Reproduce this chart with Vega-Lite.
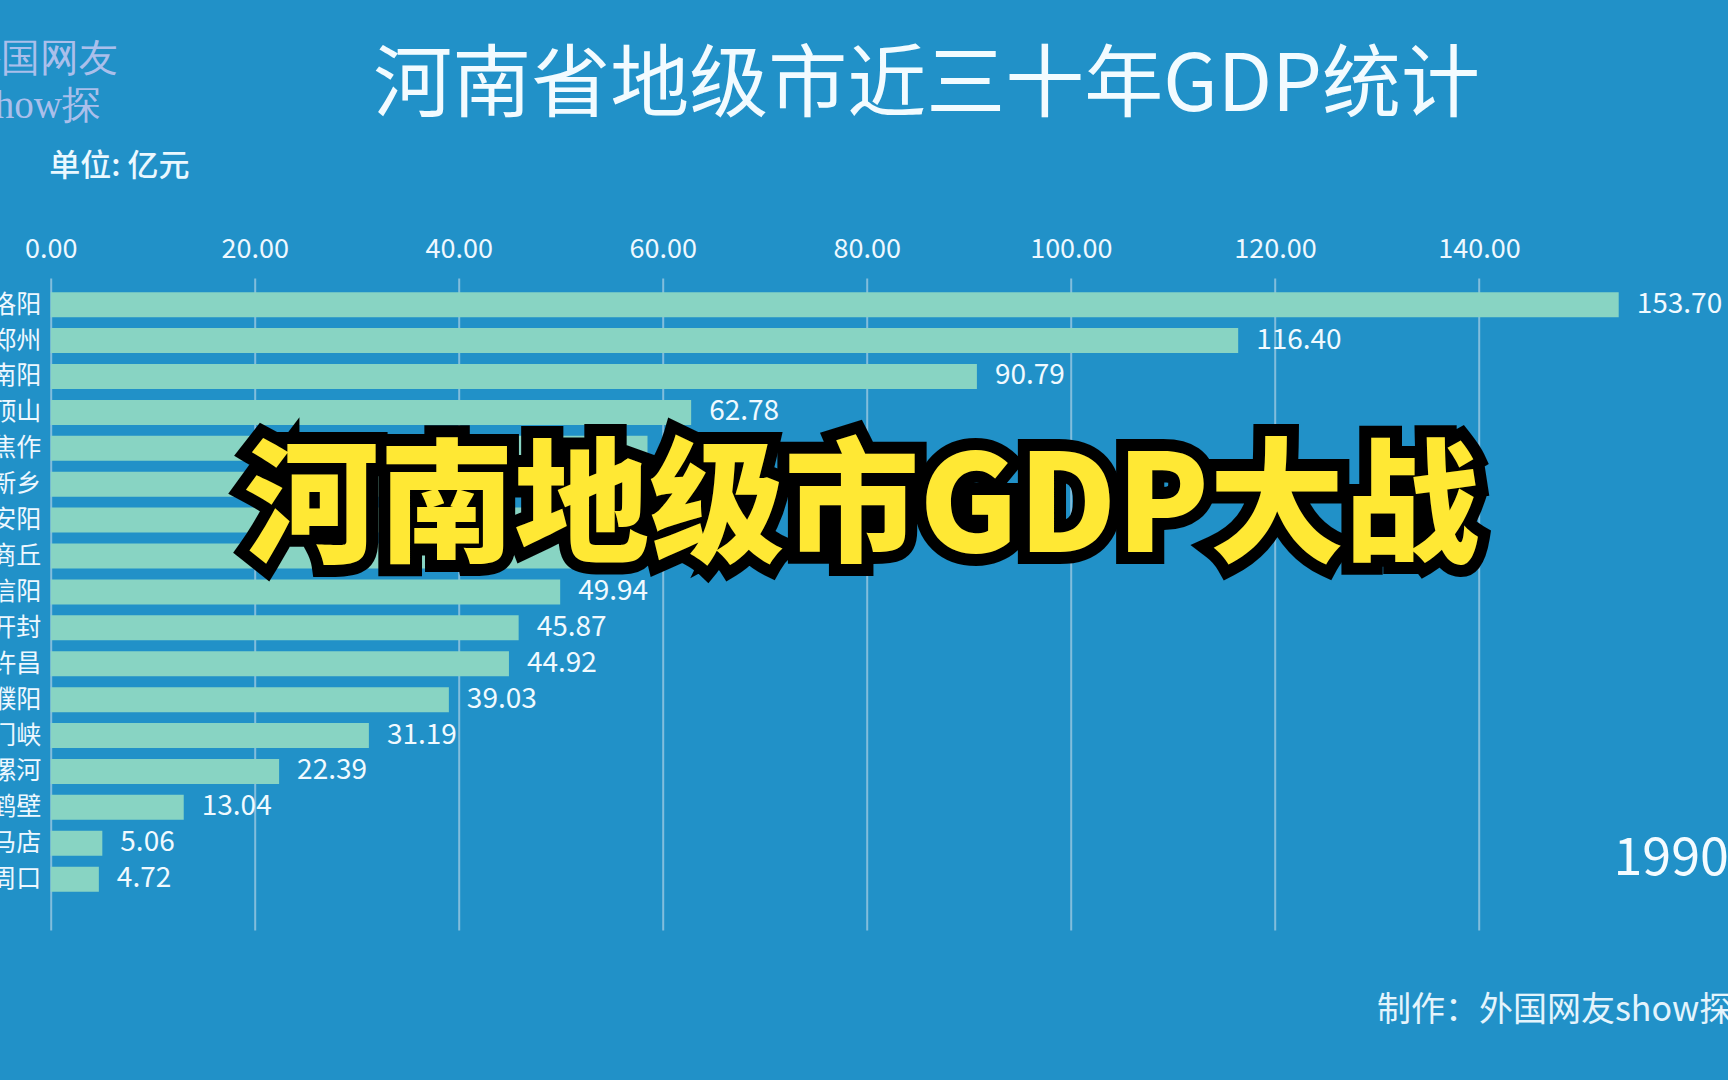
{
  "$schema": "https://vega.github.io/schema/vega-lite/v6.json",
  "width": 1568,
  "height": 652,
  "autosize": {"type": "none"},
  "padding": {"left": 50.7, "top": 278, "right": 109.3, "bottom": 150},
  "background": "#2191C8",
  "title": {
    "text": "河南省地级市近三十年GDP统计",
    "font": "Noto Sans CJK SC",
    "fontSize": 79,
    "fontWeight": "normal",
    "color": "#f2fbff",
    "anchor": "middle",
    "frame": "group",
    "dx": 92,
    "dy": 93
  },
  "config": {
    "view": {"stroke": null},
    "font": "Noto Sans CJK SC"
  },
  "data": {
    "values": [
      {"city": "洛阳", "gdp": 153.70},
      {"city": "郑州", "gdp": 116.40},
      {"city": "南阳", "gdp": 90.79},
      {"city": "平顶山", "gdp": 62.78},
      {"city": "焦作", "gdp": 58.5},
      {"city": "新乡", "gdp": 56.2},
      {"city": "安阳", "gdp": 54.0},
      {"city": "商丘", "gdp": 51.3},
      {"city": "信阳", "gdp": 49.94},
      {"city": "开封", "gdp": 45.87},
      {"city": "许昌", "gdp": 44.92},
      {"city": "濮阳", "gdp": 39.03},
      {"city": "三门峡", "gdp": 31.19},
      {"city": "漯河", "gdp": 22.39},
      {"city": "鹤壁", "gdp": 13.04},
      {"city": "驻马店", "gdp": 5.06},
      {"city": "周口", "gdp": 4.72}
    ]
  },
  "layer": [
    {
      "mark": {"type": "bar", "color": "#88D4C3"},
      "encoding": {
        "x": {
          "field": "gdp",
          "type": "quantitative",
          "scale": {"domain": [0, 153.7], "nice": false, "zero": true},
          "axis": {
            "orient": "top",
            "values": [0, 20, 40, 60, 80, 100, 120, 140],
            "format": ".2f",
            "domain": false,
            "ticks": false,
            "labelFlush": false,
            "labelFontSize": 27,
            "labelColor": "#eef8ff",
            "labelPadding": 15,
            "grid": true,
            "gridColor": "#d4e2ec",
            "gridOpacity": 0.55,
            "gridWidth": 2,
            "title": "单位: 亿元",
            "titleFontSize": 31,
            "titleFontWeight": 500,
            "titleColor": "#eaf8ff",
            "titleAngle": 0,
            "titleAlign": "left",
            "titleBaseline": "middle",
            "titleX": -2,
            "titleY": -112
          }
        },
        "y": {
          "field": "city",
          "type": "nominal",
          "scale": {
            "domain": ["洛阳", "郑州", "南阳", "平顶山", "焦作", "新乡", "安阳", "商丘", "信阳", "开封", "许昌", "濮阳", "三门峡", "漯河", "鹤壁", "驻马店", "周口"],
            "paddingInner": 0.304,
            "paddingOuter": 0.731,
            "align": 0.27
          },
          "axis": {
            "domain": false,
            "ticks": false,
            "labelFontSize": 25,
            "labelColor": "#eef8ff",
            "labelPadding": 10,
            "title": ["外国网友", "show探"],
            "titleFont": "Liberation Serif",
            "titleFontSize": 39,
            "titleFontWeight": "normal",
            "titleColor": "#c4c8f2",
            "titleOpacity": 0.85,
            "titleAngle": 0,
            "titleAlign": "center",
            "titleBaseline": "top",
            "titleLineHeight": 47,
            "titleX": -11,
            "titleY": -239
          }
        }
      }
    },
    {
      "mark": {"type": "text", "align": "left", "baseline": "middle", "dx": 18, "fontSize": 28, "color": "#f0faff"},
      "encoding": {
        "x": {"field": "gdp", "type": "quantitative"},
        "y": {"field": "city", "type": "nominal"},
        "text": {"field": "gdp", "type": "quantitative", "format": ".2f"}
      }
    },
    {
      "data": {"values": [{"label": "1990"}]},
      "mark": {"type": "text", "align": "right", "baseline": "middle", "dy": -20, "fontSize": 52, "color": "#f4fbff"},
      "encoding": {
        "x": {"datum": 164.5},
        "y": {"datum": "周口"},
        "text": {"field": "label"}
      }
    },
    {
      "data": {"values": [{"label": "制作：外国网友show探"}]},
      "mark": {"type": "text", "align": "left", "baseline": "middle", "dy": 132, "fontSize": 34, "color": "#e4f4fc"},
      "encoding": {
        "x": {"datum": 130},
        "y": {"datum": "周口"},
        "text": {"field": "label"}
      }
    },
    {
      "data": {"values": [{"label": "河南地级市GDP大战"}]},
      "mark": {"type": "text", "align": "center", "baseline": "middle", "dy": -9, "fontSize": 135, "fontWeight": 900, "color": "#000000", "stroke": "#000000", "strokeWidth": 24, "strokeJoin": "miter"},
      "encoding": {
        "x": {"datum": 79.5},
        "y": {"datum": "安阳"},
        "text": {"field": "label"}
      }
    },
    {
      "data": {"values": [{"label": "河南地级市GDP大战"}]},
      "mark": {"type": "text", "align": "center", "baseline": "middle", "dy": -9, "fontSize": 135, "fontWeight": 900, "color": "#FFE834"},
      "encoding": {
        "x": {"datum": 79.5},
        "y": {"datum": "安阳"},
        "text": {"field": "label"}
      }
    }
  ]
}
